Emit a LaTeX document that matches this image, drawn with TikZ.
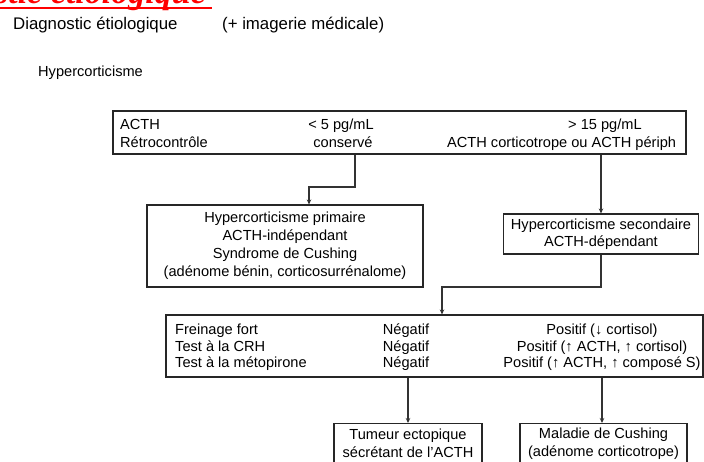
\documentclass[tikz,border=0pt]{standalone}
\usepackage{fontspec}
\setmainfont{Liberation Sans}
\newfontfamily\titlefont{Liberation Serif}
\usetikzlibrary{arrows.meta}
\tikzset{
    box/.style={
           rectangle,
           draw=black!85, line width=1.1pt,
           inner sep=0pt,
           align=center,
           font=\fontsize{14.6}{18}\selectfont,
           },
    txt/.style={
           inner sep=0pt,
           font=\fontsize{14.6}{17}\selectfont,
           },
    link/.style={
           draw=black!80, line width=1.1pt,
           -{Stealth[length=5pt,width=4.5pt]},
           },
}

\begin{document}
\begin{tikzpicture}[x=1pt,y=-1pt]
    \useasboundingbox (0,0) rectangle (704,461);
    \clip (0,0) rectangle (704,461);

    % title, cut at the top of the page
    \node[inner sep=0pt, anchor=base east, text=red,
    font=\titlefont\bfseries\itshape\fontsize{34}{34}\selectfont] (title) at (206,3)
    {Diagnostic étiologique};
    \coordinate (ul) at (212,7.8);
    \draw[red, line width=2.6pt] (title.west |- ul) -- (ul);

    % headings
    \node[txt, anchor=base west, font=\fontsize{16.8}{19}\selectfont] (diag) at (13,29) {Diagnostic étiologique};
    \node[txt, anchor=base west, font=\fontsize{16.8}{19}\selectfont] (imag) at (222,29) {(+ imagerie médicale)};
    \node[txt, anchor=base west] (hyper) at (38,76) {Hypercorticisme};

    % ACTH box with its three columns
    \node[box, minimum width=573pt, minimum height=43pt] (acth) at (399.5,132.5) {};
    \node[txt, anchor=base west] (acthlbl) at (120,129) {ACTH};
    \node[txt, anchor=base west] (retro) at (120,147) {Rétrocontrôle};
    \node[txt, anchor=base] (bas) at (341,129) {< 5 pg/mL};
    \node[txt, anchor=base] (conserve) at (343,147) {conservé};
    \node[txt, anchor=base west] (haut) at (568,129) {> 15 pg/mL};
    \node[txt, anchor=base west] (periph) at (447,147) {ACTH corticotrope ou ACTH périph};

    % primary / secondary
    \node[box, minimum width=276pt, minimum height=82pt] (primaire) at (285,246)
    {Hypercorticisme primaire\\ACTH-indépendant\\Syndrome de Cushing\\(adénome bénin, corticosurrénalome)};
    \node[box, minimum width=195pt, minimum height=40pt,
    font=\fontsize{14.6}{17}\selectfont] (secondaire) at (601,234)
    {Hypercorticisme secondaire\\ACTH-dépendant};

    % dynamic tests
    \node[box, minimum width=537pt, minimum height=62pt] (tests) at (434.5,346) {};
    \node[txt, anchor=base west] (freinage) at (175,334) {Freinage fort};
    \node[txt, anchor=base west] (crh) at (175,351) {Test à la CRH};
    \node[txt, anchor=base west] (meto) at (175,367) {Test à la métopirone};
    \node[txt, anchor=base] (neg1) at (406,334) {Négatif};
    \node[txt, anchor=base] (neg2) at (406,351) {Négatif};
    \node[txt, anchor=base] (neg3) at (406,367) {Négatif};
    \node[txt, anchor=base] (pos1) at (602,334) {Positif (↓ cortisol)};
    \node[txt, anchor=base] (pos2) at (602,351) {Positif (↑ ACTH, ↑ cortisol)};
    \node[txt, anchor=base] (pos3) at (602,367) {Positif (↑ ACTH, ↑ composé S)};

    % results, cut at the bottom of the page
    \node[box, anchor=north, minimum width=148pt, minimum height=40pt] (tumeur) at (408,423)
    {Tumeur ectopique\\sécrétant de l'ACTH};
    \node[box, anchor=north, minimum width=167pt, minimum height=40pt] (maladie) at (603.5,423)
    {Maladie de Cushing\\(adénome corticotrope)};

    % connectors
    \coordinate (k1) at (355,187);
    \coordinate (k2) at (309,187);
    \draw[link] (acth.south -| k1) -- (k1) -- (k2) -- (k2 |- primaire.north);
    \draw[link] (acth.south -| secondaire.north) -- (secondaire.north);
    \coordinate (k3) at (601,287);
    \coordinate (k4) at (442,287);
    \draw[link] (secondaire.south) -- (k3) -- (k4) -- (k4 |- tests.north);
    \draw[link] (tests.south -| tumeur.north) -- (tumeur.north);
    \draw[link] (tests.south -| pos1) -- (pos1 |- maladie.north);
\end{tikzpicture}
\end{document}
